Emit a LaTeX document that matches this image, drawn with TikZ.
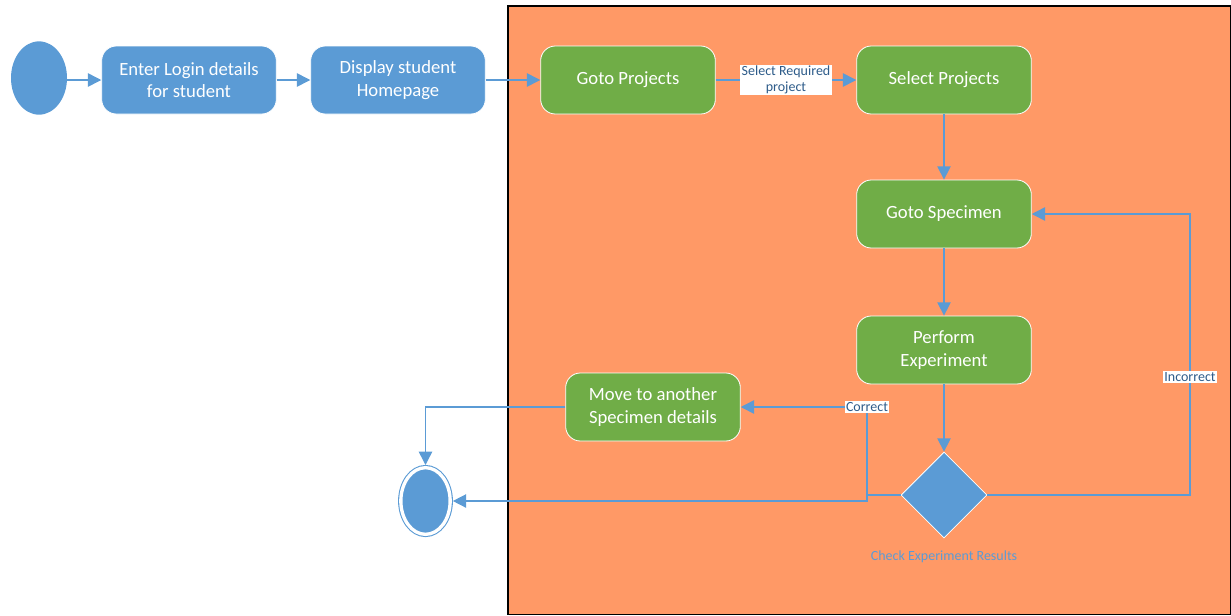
\documentclass[tikz,border=0pt]{standalone}
\usepackage{fontspec}
\setmainfont{Carlito}
\usetikzlibrary{arrows.meta}
\usetikzlibrary{shapes.geometric}
\definecolor{actblue}{HTML}{5B9BD5}
\definecolor{actgreen}{HTML}{70AD47}
\definecolor{laneorange}{HTML}{FF9966}
\definecolor{lbltext}{HTML}{2E5C8A}
\begin{document}
\begin{tikzpicture}[x=0.75pt, y=-0.75pt,
		act/.style={rounded corners=11pt, draw=white, line width=0.6pt, text=white, align=center,
			minimum width=131pt, minimum height=51pt, inner sep=2pt,
			font=\fontsize{14}{17}\selectfont},
		blueact/.style={act, fill=actblue},
		greenact/.style={act, fill=actgreen},
		flow/.style={actblue, line width=1.1pt, -{Triangle[length=10pt, width=10pt]}},
		lbl/.style={fill=white, text=lbltext, inner sep=1pt, align=center,
			font=\fontsize{10.5}{12}\selectfont}]
		\useasboundingbox (0,0) rectangle (1231,615);
		\filldraw[fill=laneorange, draw=black, line width=1pt] (508,6) rectangle (1230.5,614.5);
		% nodes
		\node[ellipse, fill=actblue, minimum width=42pt, minimum height=55pt] (start) at (39,78) {};
		\node[blueact] (login) at (189,80) {Enter Login details\\for student};
		\node[blueact] (home) at (398,80) {Display student\\Homepage};
		\node[greenact] (projects) at (628,80) {Goto Projects};
		\node[greenact] (selproj) at (944,80) {Select Projects};
		\node[greenact] (specimen) at (944,214) {Goto Specimen};
		\node[greenact] (perform) at (944,350) {Perform\\Experiment};
		\node[greenact] (move) at (653,407) {Move to another\\Specimen details};
		\node[diamond, fill=actblue, draw=white, line width=0.6pt, inner sep=0pt,
			minimum width=64.5pt, minimum height=64.5pt] (check) at (944,495) {};
		\node[text=actblue, font=\fontsize{10.5}{12}\selectfont] (checklbl) at (944,557) {Check Experiment Results};
		\node[ellipse, fill=actblue, draw=actblue, line width=0.8pt, double=white, double distance=2.5pt,
			minimum width=37pt, minimum height=50pt, outer sep=2pt] (final) at (425.5,501) {};
		\coordinate (split) at (867,495);
		% connectors
		\draw[flow] (start.east |- login.west) -- (login.west);
		\draw[flow] (login) -- (home);
		\draw[flow] (home) -- (projects);
		\draw[flow] (projects) -- node[lbl] {Select Required\\project} (selproj);
		\draw[flow] (selproj) -- (specimen);
		\draw[flow] (specimen) -- (perform);
		\draw[flow] (perform) -- (check);
		\draw[flow] (check.east) -- (1190,495) -- node[lbl, pos=0.42] {Incorrect} (1190,214) -- (specimen.east);
		\draw[flow] (check.west) -- (split) |- node[lbl, pos=0.5] {Correct} (move.east);
		\draw[flow] (split) |- (final.east);
		\draw[flow] (move.west) -| (final.north);
	\end{tikzpicture}
\end{document}
